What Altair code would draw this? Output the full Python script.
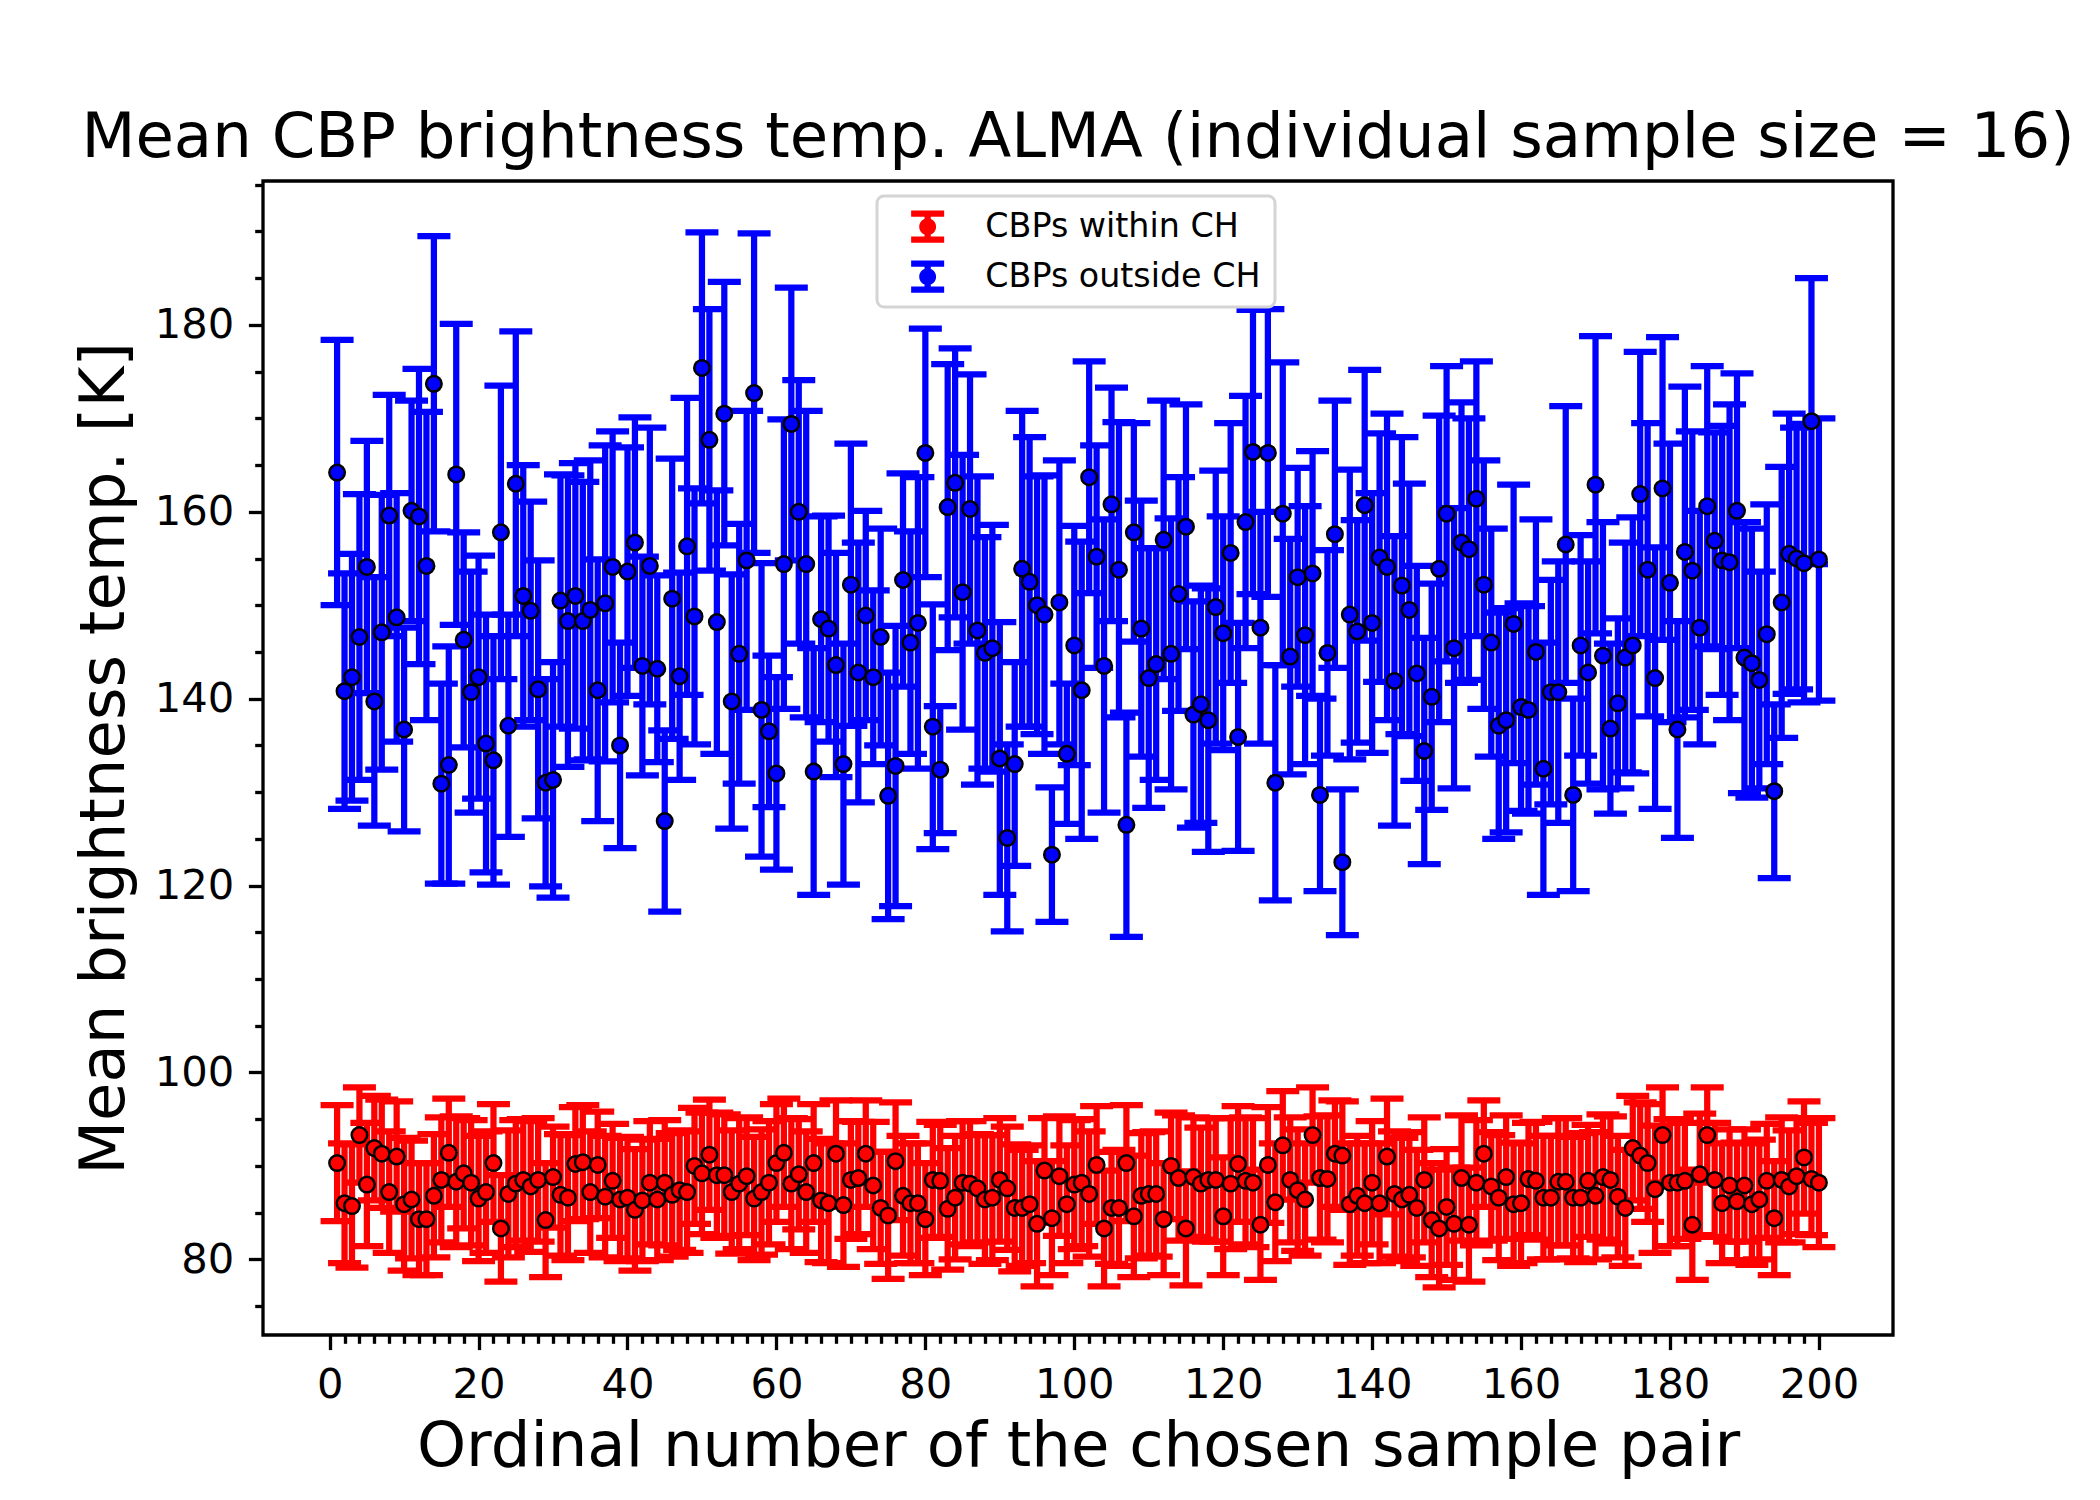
import altair as alt
import pandas as pd

# ---------------- data ----------------
sample_index = list(range(1, 201))

within_mean = [
    90.3, 86.0, 85.7, 93.3, 88.0, 91.9, 91.3, 87.2, 91.0, 85.9,
    86.4, 84.3, 84.3, 86.8, 88.5, 91.4, 88.3, 89.2, 88.2, 86.5,
    87.2, 90.3, 83.3, 87.0, 88.1, 88.5, 87.8, 88.5, 84.2, 88.8,
    86.9, 86.6, 90.2, 90.4, 87.2, 90.1, 86.7, 88.4, 86.4, 86.6,
    85.3, 86.3, 88.2, 86.4, 88.2, 86.9, 87.4, 87.2, 90.0, 89.2,
    91.2, 89.0, 89.0, 87.2, 88.1, 88.9, 86.5, 87.2, 88.2, 90.3,
    91.4, 88.1, 89.1, 87.2, 90.3, 86.3, 86.0, 91.3, 85.8, 88.5,
    88.7, 91.3, 87.9, 85.5, 84.7, 90.5, 86.8, 86.0, 86.0, 84.3,
    88.5, 88.4, 85.4, 86.6, 88.2, 88.1, 87.6, 86.4, 86.6, 88.5,
    87.6, 85.5, 85.5, 85.9, 83.8, 89.5, 84.4, 88.9, 85.9, 88.0,
    88.2, 87.0, 90.1, 83.3, 85.5, 85.5, 90.3, 84.6, 86.8, 87.0,
    87.0, 84.3, 90.0, 88.7, 83.3, 88.8, 88.1, 88.5, 88.5, 84.6,
    88.1, 90.2, 88.4, 88.2, 83.7, 90.1, 86.1, 92.2, 88.5, 87.4,
    86.4, 93.3, 88.7, 88.6, 91.3, 91.1, 85.9, 86.8, 86.0, 88.2,
    86.0, 91.0, 87.0, 86.4, 86.9, 85.5, 88.5, 84.2, 83.3, 85.6,
    83.8, 88.7, 83.7, 88.2, 91.3, 87.8, 86.6, 88.8, 85.9, 86.0,
    88.6, 88.4, 86.6, 86.6, 88.3, 88.3, 86.6, 86.6, 88.4, 86.8,
    88.8, 88.5, 86.7, 85.5, 91.9, 91.1, 90.3, 87.5, 93.3, 88.2,
    88.2, 88.4, 83.7, 89.1, 93.3, 88.5, 86.0, 87.9, 86.2, 87.9,
    85.9, 86.4, 88.4, 84.4, 88.5, 87.8, 88.9, 90.9, 88.6, 88.2,
]
within_err = [
    6.2, 6.4, 6.6, 5.1, 6.6, 5.6, 5.8, 6.5, 5.9, 7.1,
    6.3, 6.0, 6.0, 6.6, 6.7, 5.8, 7.0, 5.9, 6.7, 6.7,
    6.5, 6.3, 5.7, 6.8, 6.8, 6.5, 7.0, 6.6, 6.1, 5.4,
    6.5, 6.7, 6.1, 6.1, 6.5, 5.7, 6.5, 6.1, 6.6, 6.5,
    6.5, 6.5, 6.6, 6.5, 6.7, 6.6, 6.4, 6.5, 6.2, 6.5,
    5.9, 6.7, 6.5, 6.6, 7.0, 6.3, 6.6, 6.7, 6.6, 6.3,
    5.8, 7.0, 5.9, 6.5, 6.3, 6.6, 6.4, 5.7, 6.6, 6.3,
    6.0, 5.7, 6.8, 6.0, 6.8, 6.3, 6.4, 6.4, 6.4, 6.0,
    6.2, 6.0, 6.5, 6.6, 6.6, 6.7, 5.8, 6.9, 6.7, 6.6,
    6.6, 6.8, 6.2, 6.3, 6.7, 5.6, 6.1, 6.4, 6.3, 6.9,
    6.8, 6.7, 6.3, 6.2, 6.0, 6.2, 6.2, 6.5, 6.7, 6.6,
    6.7, 6.0, 5.7, 6.7, 6.1, 6.4, 6.0, 6.6, 6.6, 6.3,
    7.0, 6.2, 6.8, 6.9, 5.9, 6.2, 6.3, 5.8, 6.7, 6.5,
    6.0, 5.1, 6.6, 6.8, 5.7, 5.8, 6.5, 6.4, 6.4, 6.6,
    6.4, 6.2, 6.7, 6.6, 6.7, 6.2, 6.7, 6.1, 6.3, 6.2,
    6.0, 6.7, 6.1, 6.7, 5.7, 5.8, 6.7, 6.6, 6.6, 6.4,
    6.0, 6.3, 6.6, 6.6, 6.8, 6.8, 6.5, 6.9, 6.0, 6.8,
    6.7, 6.8, 6.5, 6.2, 5.6, 5.7, 6.3, 6.8, 5.1, 6.8,
    6.8, 6.2, 5.9, 6.5, 5.1, 6.1, 6.4, 6.0, 6.3, 6.0,
    6.5, 6.4, 6.1, 6.1, 6.7, 6.0, 6.2, 6.0, 6.0, 6.9,
]
outside_mean = [
    164.2, 140.8, 142.3, 146.6, 154.1, 139.7, 147.1, 159.6, 148.7, 136.7,
    160.1, 159.5, 154.2, 173.7, 130.9, 132.9, 164.0, 146.3, 140.7, 142.3,
    135.2, 133.4, 157.8, 137.1, 163.0, 151.0, 149.4, 141.0, 131.0, 131.3,
    150.5, 148.3, 151.0, 148.3, 149.5, 140.9, 150.2, 154.1, 135.0, 153.6,
    156.7, 143.5, 154.2, 143.2, 126.9, 150.7, 142.4, 156.3, 148.8, 175.4,
    167.7, 148.2, 170.5, 139.7, 144.8, 154.8, 172.7, 138.8, 136.5, 132.0,
    154.4, 169.4, 160.0, 154.4, 132.2, 148.5, 147.5, 143.6, 133.0, 152.2,
    142.8, 148.9, 142.3, 146.6, 129.6, 132.8, 152.7, 146.0, 148.1, 166.3,
    137.0, 132.4, 160.5, 163.1, 151.4, 160.3, 147.3, 144.9, 145.4, 133.6,
    125.1, 133.0, 153.9, 152.5, 150.0, 149.0, 123.3, 150.3, 134.1, 145.7,
    140.9, 163.7, 155.2, 143.5, 160.8, 153.8, 126.5, 157.8, 147.5, 142.2,
    143.7, 157.0, 144.8, 151.2, 158.4, 138.3, 139.4, 137.7, 149.8, 147.0,
    155.6, 135.9, 158.9, 166.4, 147.6, 166.3, 131.0, 159.8, 144.5, 153.0,
    146.8, 153.4, 129.7, 144.9, 157.6, 122.5, 149.0, 147.2, 160.7, 148.1,
    155.1, 154.1, 141.9, 152.1, 149.5, 142.7, 134.4, 140.2, 153.9, 159.8,
    145.4, 156.7, 156.0, 161.4, 152.2, 146.0, 137.1, 137.7, 148.0, 139.1,
    138.8, 145.0, 132.5, 140.7, 140.7, 156.5, 129.7, 145.7, 142.8, 162.9,
    144.6, 136.8, 139.5, 144.4, 145.7, 161.9, 153.8, 142.2, 162.5, 152.4,
    136.7, 155.7, 153.7, 147.6, 160.6, 156.9, 154.8, 154.6, 160.1, 144.4,
    143.8, 142.0, 146.9, 130.1, 150.3, 155.5, 155.0, 154.5, 169.7, 154.9,
]
outside_err = [
    14.2, 12.6, 13.2, 15.3, 13.5, 13.3, 14.7, 12.9, 13.3, 10.9,
    11.8, 15.8, 16.5, 15.8, 10.7, 12.7, 16.1, 11.5, 12.9, 13.0,
    13.8, 13.3, 15.7, 11.9, 16.3, 14.0, 11.7, 13.8, 11.1, 12.6,
    13.5, 15.6, 14.2, 14.9, 16.0, 14.0, 16.9, 14.5, 11.0, 13.3,
    13.4, 11.7, 14.8, 10.0, 9.7, 15.0, 11.1, 15.9, 13.7, 14.5,
    14.0, 14.1, 14.1, 13.6, 13.9, 16.0, 17.1, 15.7, 8.1, 10.3,
    15.5, 14.6, 14.1, 16.4, 13.2, 11.0, 12.1, 12.0, 12.9, 15.1,
    13.9, 11.2, 9.3, 11.6, 13.2, 15.0, 11.4, 11.9, 15.6, 13.3,
    13.1, 6.8, 15.3, 14.4, 14.7, 14.4, 16.5, 12.4, 13.2, 14.6,
    10.0, 10.9, 16.9, 15.5, 13.8, 14.9, 7.2, 15.2, 7.5, 12.8,
    15.9, 12.4, 11.9, 15.7, 12.5, 15.8, 12.0, 11.7, 13.7, 13.9,
    12.4, 14.9, 14.5, 12.5, 13.1, 12.1, 12.7, 14.1, 14.6, 12.5,
    13.9, 12.2, 13.5, 15.2, 12.4, 15.4, 12.6, 16.2, 12.6, 11.7,
    13.8, 13.1, 10.3, 11.0, 14.3, 7.8, 15.5, 11.9, 14.5, 13.9,
    13.3, 16.4, 15.5, 15.9, 13.5, 11.5, 12.1, 12.1, 16.4, 15.8,
    15.0, 15.0, 14.0, 14.7, 13.3, 12.2, 12.1, 12.0, 14.9, 11.1,
    11.1, 14.2, 13.5, 12.0, 14.0, 14.8, 10.3, 11.8, 11.9, 15.9,
    14.3, 9.1, 9.1, 12.3, 13.7, 15.2, 15.7, 14.0, 16.2, 14.9,
    11.6, 17.7, 14.9, 12.5, 15.0, 11.6, 14.4, 16.9, 14.7, 14.5,
    14.4, 11.6, 13.9, 9.3, 14.5, 15.0, 14.0, 14.9, 15.3, 15.1,
]

series_names = ["CBPs within CH", "CBPs outside CH"]
series_colors = ["#ff0000", "#0000ff"]

x_major = list(range(0, 201, 20))
x_minor = [v for v in range(2, 200, 2) if v % 20]
y_major = list(range(80, 181, 20))
y_minor = [v for v in range(75, 196, 5) if v % 20]

title_text = "Mean CBP brightness temp. ALMA (individual sample size = 16)"
x_title = "Ordinal number of the chosen sample pair"
y_title = "Mean brightness temp. [K]"

# ---------------- tables ----------------
rows = []
for name, means, errs in [
    (series_names[0], within_mean, within_err),
    (series_names[1], outside_mean, outside_err),
]:
    for i, m, e in zip(sample_index, means, errs):
        rows.append({"i": i, "mean": m, "err": e, "lo": m - e, "hi": m + e, "group": name})
df = pd.DataFrame(rows)
caps_df = pd.concat(
    [df.assign(cap=df["lo"]), df.assign(cap=df["hi"])], ignore_index=True
)

FONT = "DejaVu Sans"
LW = 6.25

xs = alt.Scale(domain=[-8.95, 209.95], nice=False, zero=False)
ys = alt.Scale(domain=[71.9, 195.4], nice=False, zero=False)
cs = alt.Scale(domain=series_names, range=series_colors)

legend_symbol = (
    "M-0.65,0A0.65,0.65,0,1,1,0.65,0A0.65,0.65,0,1,1,-0.65,0Z"
    "M-0.24,-1H0.24V1H-0.24Z"
    "M-1.27,-1.24H1.27V-0.76H-1.27Z"
    "M-1.27,0.76H1.27V1.24H-1.27Z"
)

legend = alt.Legend(
    title=None, orient="none", legendX=614, legendY=15,
    symbolType=legend_symbol, symbolSize=676, symbolStrokeWidth=0,
    symbolOffset=20, labelOffset=41, rowPadding=16, labelLimit=600,
    labelFont=FONT, labelFontSize=33.3, labelColor="black",
    padding=14, fillColor="white", strokeColor="#d4d4d4", cornerRadius=7,
)
color_enc = alt.Color("group:N", scale=cs, legend=legend)

bars = alt.Chart(df).mark_rule(strokeWidth=LW, opacity=1).encode(
    x=alt.X("i:Q", scale=xs, axis=None),
    y=alt.Y("lo:Q", scale=ys, axis=None),
    y2="hi:Q",
    color=color_enc,
)

caps = alt.Chart(caps_df).mark_tick(
    orient="horizontal", size=33, thickness=LW, opacity=1
).encode(
    x=alt.X("i:Q", scale=xs, axis=None),
    y=alt.Y("cap:Q", scale=ys, axis=None),
    color=color_enc,
)

points = alt.Chart(df).mark_point(
    shape="circle", filled=True, size=240, stroke="black", strokeWidth=2.5, opacity=1
).encode(
    x=alt.X(
        "i:Q",
        scale=xs,
        title=x_title,
        axis=alt.Axis(
            values=x_major, orient="bottom", format="d", domain=False, grid=False,
            tickSize=14.6, tickWidth=3.3, tickColor="black",
            labelFont=FONT, labelFontSize=41.67, labelColor="black",
            labelPadding=14.6, labelFlush=False, labelOverlap=False,
            titleFont=FONT, titleFontSize=62.5, titleFontWeight="normal",
            titleColor="black", titlePadding=10.6,
        ),
    ),
    y=alt.Y(
        "mean:Q",
        scale=ys,
        title=y_title,
        axis=alt.Axis(
            values=y_major, orient="left", format="d", domain=False, grid=False,
            tickSize=14.6, tickWidth=3.3, tickColor="black",
            labelFont=FONT, labelFontSize=41.67, labelColor="black",
            labelPadding=14.6, labelFlush=False, labelOverlap=False,
            titleFont=FONT, titleFontSize=62.5, titleFontWeight="normal",
            titleColor="black", titlePadding=18,
        ),
    ),
    color=color_enc,
)

minor = alt.Chart(df).mark_point(opacity=0).encode(
    x=alt.X(
        "i:Q", scale=xs, title=None,
        axis=alt.Axis(values=x_minor, orient="bottom", labels=False, domain=False,
                      grid=False, tickSize=8.3, tickWidth=3.3, tickColor="black"),
    ),
    y=alt.Y(
        "mean:Q", scale=ys, title=None,
        axis=alt.Axis(values=y_minor, orient="left", labels=False, domain=False,
                      grid=False, tickSize=8.3, tickWidth=3.3, tickColor="black"),
    ),
)

chart = (
    alt.layer(bars, caps, points, minor)
    .resolve_axis(x="independent", y="independent")
    .properties(
        width=1630,
        height=1154,
        autosize=alt.AutoSizeParams(type="none"),
        padding={"left": 255, "top": 173, "right": 195, "bottom": 150},
        title=alt.TitleParams(
            text=title_text, font=FONT, fontSize=62.5, fontWeight="normal",
            color="black", anchor="middle", offset=11,
        ),
        background="white",
    )
    .configure_view(stroke="black", strokeWidth=3.3)
    .configure_legend(strokeWidth=3)
)

chart.save("out.html", embed_options={"renderer": "svg", "actions": False})
